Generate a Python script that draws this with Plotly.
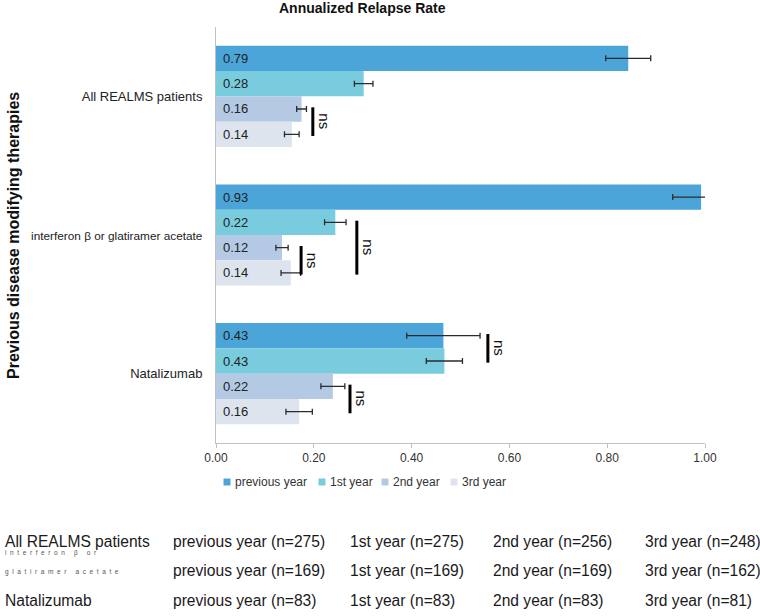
import plotly.graph_objects as go

# ---------------- data ----------------
categories = ["All REALMS patients", "interferon β or glatiramer acetate", "Natalizumab"]
series = ["previous year", "1st year", "2nd year", "3rd year"]

# printed rate labels (inside bars)
label_prev = [0.79, 0.93, 0.43]
label_y1 = [0.28, 0.22, 0.43]
label_y2 = [0.16, 0.12, 0.22]
label_y3 = [0.14, 0.14, 0.16]

# bar lengths as drawn against the x axis
len_prev = [0.843, 0.992, 0.465]
len_y1 = [0.302, 0.244, 0.467]
len_y2 = [0.175, 0.135, 0.239]
len_y3 = [0.155, 0.153, 0.170]

# error bar half-widths
err_prev = [0.046, 0.058, 0.075]
err_y1 = [0.019, 0.022, 0.037]
err_y2 = [0.010, 0.0125, 0.0245]
err_y3 = [0.015, 0.020, 0.027]

# "ns" comparisons: category index, first bar, last bar, x position
ns_cat = [0, 1, 1, 2, 2]
ns_from = [2, 2, 1, 0, 2]
ns_to = [3, 3, 3, 1, 3]
ns_x = [0.198, 0.174, 0.288, 0.556, 0.274]

x_ticks = [0.0, 0.2, 0.4, 0.6, 0.8, 1.0]

# n table
table_groups = ["All REALMS patients", "interferon β or glatiramer acetate", "Natalizumab"]
n_prev = [275, 169, 83]
n_y1 = [275, 169, 83]
n_y2 = [256, 169, 83]
n_y3 = [248, 162, 81]

# ---------------- style ----------------
colors = ["#4BA5D8", "#79CCDD", "#B4CAE4", "#DEE4EE"]
FONT = "Liberation Sans, Arial, sans-serif"
L, R, T, B = 216, 55, 27, 173
W, H = 760 - L - R, 616 - T - B
BARGAP = 0.27


def px_x(px):
    return (px - L) / W


def px_y(py):
    return (T + H - py) / H


lengths = [len_prev, len_y1, len_y2, len_y3]
labels = [label_prev, label_y1, label_y2, label_y3]
errors = [err_prev, err_y1, err_y2, err_y3]

fig = go.Figure()
for k, name in enumerate(series):
    fig.add_trace(go.Bar(
        name=name, y=categories, x=lengths[k], orientation="h",
        marker=dict(color=colors[k], line=dict(width=0)),
        error_x=dict(type="data", array=errors[k], visible=True,
                     color="#2b2b2b", thickness=1.3, width=3),
        showlegend=False,
    ))

nb = len(series)
bw = (1 - BARGAP) / nb
offs = [-(1 - BARGAP) / 2 + bw * (k + 0.5) for k in range(nb)]

annotations = []
shapes = []

# value labels inside bars
for k in range(nb):
    for c in range(len(categories)):
        annotations.append(dict(
            x=0, y=c + offs[k], xref="x", yref="y", text=f"{labels[k][c]:.2f}",
            showarrow=False, xanchor="left", yanchor="middle", xshift=5,
            font=dict(family=FONT, size=13, color="#222222")))

# ns brackets
for c, a, b, xv in zip(ns_cat, ns_from, ns_to, ns_x):
    y0 = c + offs[a] - 0.012
    y1 = c + offs[b] + 0.012
    shapes.append(dict(type="line", xref="x", yref="y", x0=xv, x1=xv, y0=y0, y1=y1,
                       line=dict(color="black", width=3)))
    annotations.append(dict(
        x=xv, y=(y0 + y1) / 2, xref="x", yref="y", text="ns", textangle=90,
        showarrow=False, xanchor="left", yanchor="middle", xshift=1,
        font=dict(family=FONT, size=15, color="#111111")))

# title
annotations.append(dict(
    x=px_x(362), y=px_y(8), xref="paper", yref="paper", text="<b>Annualized Relapse Rate</b>",
    showarrow=False, xanchor="center", yanchor="middle",
    font=dict(family=FONT, size=14, color="#111111")))

# y axis title
annotations.append(dict(
    x=px_x(13), y=px_y(236), xref="paper", yref="paper",
    text="<b>Previous disease modifying therapies</b>", textangle=-90,
    showarrow=False, xanchor="center", yanchor="middle",
    font=dict(family=FONT, size=16, color="#111111")))

# legend (drawn manually for compact symbols)
leg_sq = [227, 322, 385, 454]
leg_y = 482
for k, name in enumerate(series):
    cx = leg_sq[k]
    shapes.append(dict(type="rect", xref="paper", yref="paper",
                       x0=px_x(cx - 3.5), x1=px_x(cx + 3.5),
                       y0=px_y(leg_y + 3.5), y1=px_y(leg_y - 3.5),
                       fillcolor=colors[k], line=dict(width=0)))
    annotations.append(dict(
        x=px_x(cx + 6), y=px_y(leg_y), xref="paper", yref="paper", text=name,
        showarrow=False, xanchor="left", yanchor="middle",
        font=dict(family=FONT, size=12, color="#333333")))

# n table
col_x = [3, 171, 348, 491, 643]
row_y = [541, 570, 600]
for i, g in enumerate(table_groups):
    cells = [f"previous year (n={n_prev[i]})", f"1st year (n={n_y1[i]})",
             f"2nd year (n={n_y2[i]})", f"3rd year (n={n_y3[i]})"]
    if i == 1:
        # tiny, letter-spaced two-line group name
        words = g.split(" ")
        line1 = " ".join(words[:3])
        line2 = " ".join(words[3:])
        for txt, yy in ((line1, 553), (line2, 572)):
            spaced = "\u00a0\u00a0\u00a0\u00a0\u00a0".join(
                "\u00a0\u00a0".join(list(w)) for w in txt.split(" "))
            annotations.append(dict(
                x=px_x(col_x[0]), y=px_y(yy), xref="paper", yref="paper", text=spaced,
                showarrow=False, xanchor="left", yanchor="middle",
                font=dict(family=FONT, size=6.5, color="#555555")))
    else:
        annotations.append(dict(
            x=px_x(col_x[0]), y=px_y(row_y[i]), xref="paper", yref="paper", text=g,
            showarrow=False, xanchor="left", yanchor="middle",
            font=dict(family=FONT, size=15.6, color="#1a1a1a")))
    for j, cell in enumerate(cells):
        annotations.append(dict(
            x=px_x(col_x[j + 1]), y=px_y(row_y[i]), xref="paper", yref="paper", text=cell,
            showarrow=False, xanchor="left", yanchor="middle",
            font=dict(family=FONT, size=15.6, color="#1a1a1a")))

# category tick labels (the long one is set slightly smaller, as in the reference)
tick_text = [c if len(c) < 25 else f"<span style='font-size:11.8px'>{c}</span>"
             for c in categories]

fig.update_layout(
    width=760, height=616,
    margin=dict(l=L, r=R, t=T, b=B, pad=0),
    barmode="group", bargap=BARGAP, bargroupgap=0,
    plot_bgcolor="white", paper_bgcolor="white",
    font=dict(family=FONT, size=12, color="#333333"),
    annotations=annotations, shapes=shapes,
    showlegend=False,
)
fig.update_xaxes(
    range=[0, 1], tickvals=x_ticks, tickformat=".2f",
    showgrid=False, zeroline=False, showline=True, linecolor="#c0c0c0", linewidth=1,
    ticks="outside", ticklen=4, tickcolor="#c0c0c0",
    tickfont=dict(family=FONT, size=12, color="#333333"),
)
fig.update_yaxes(
    type="category", range=[2.5, -0.5],
    tickvals=categories, ticktext=tick_text,
    showgrid=False, zeroline=False, showline=True, linecolor="#c0c0c0", linewidth=1,
    ticks="", ticklabelstandoff=10,
    tickfont=dict(family=FONT, size=13, color="#222222"),
)

fig.write_html(
    "out.html",
    config={"displayModeBar": False},
    post_script="document.body.style.margin='0';document.body.style.overflow='hidden';",
)
